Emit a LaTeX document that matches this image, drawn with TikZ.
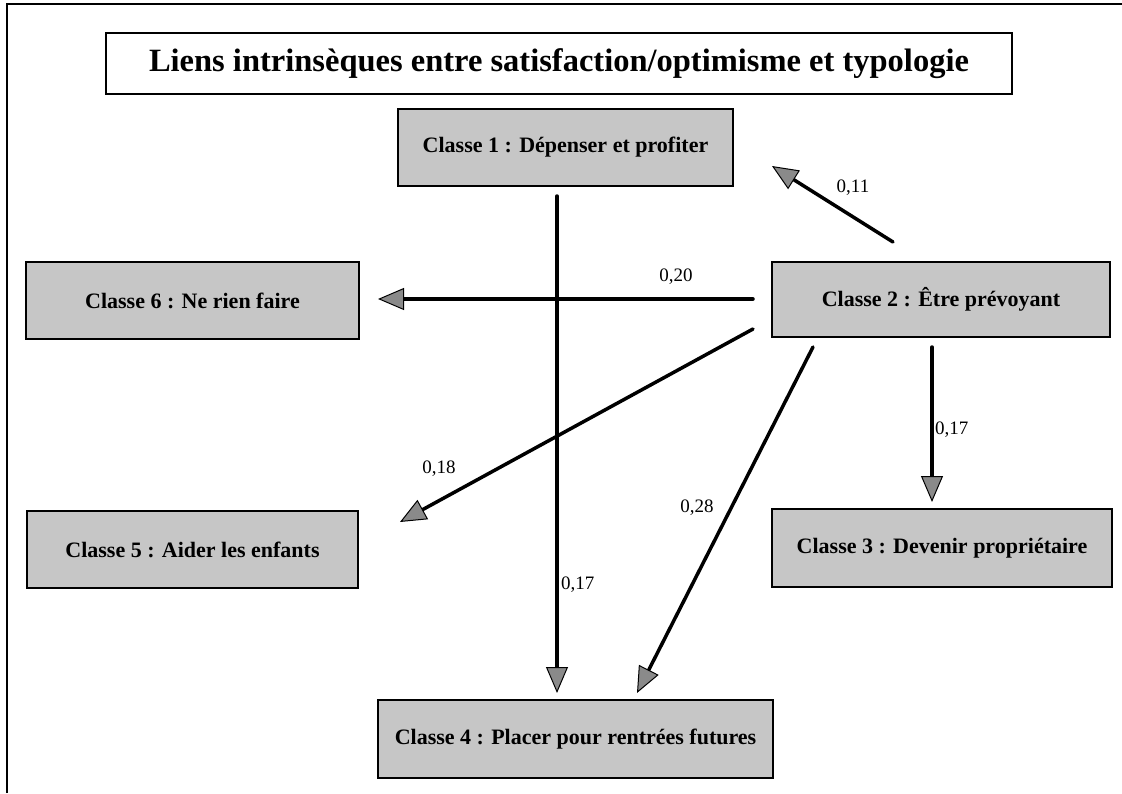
\documentclass[tikz,border=0pt]{standalone}
\usepackage{fontspec}
\setmainfont{Liberation Serif}
\usetikzlibrary{arrows.meta}
\definecolor{boxgray}{HTML}{C6C6C6}
\definecolor{tipgray}{HTML}{8A8A8A}
\tikzset{
  classbox/.style={draw, line width=1.8pt, fill=boxgray, inner sep=0pt,
    font=\fontsize{22}{24}\selectfont\bfseries},
  titlebox/.style={draw, line width=1.8pt, fill=white, inner sep=0pt,
    minimum width=906pt, minimum height=61pt,
    font=\fontsize{32.5}{36}\selectfont\bfseries},
  link/.style={line width=3.5pt, line cap=round,
    -{Triangle[length=26pt, width=22pt, fill=tipgray, line width=1pt]}},
  coef/.style={inner sep=0pt, font=\fontsize{19}{21}\selectfont},
}
\begin{document}
\begin{tikzpicture}[x=1pt, y=-1pt]
\useasboundingbox (0,0) rectangle (1122,793);
% outer frame
\draw[line width=2pt] (7,793) -- (7,4) -- (1122,4);

% title
\node[titlebox] (title) at (559,63.5) {Liens intrinsèques entre satisfaction/optimisme et typologie};

% classes
\node[classbox, minimum width=335pt, minimum height=77pt] (c1) at (565.5,147.5) {Classe 1 : Dépenser et profiter};
\node[classbox, minimum width=338pt, minimum height=75pt] (c2) at (941,299.5) {Classe 2 : Être prévoyant};
\node[classbox, minimum width=340pt, minimum height=78pt] (c3) at (942,548) {Classe 3 : Devenir propriétaire};
\node[classbox, minimum width=395pt, minimum height=78pt] (c4) at (575.5,739) {Classe 4 : Placer pour rentrées futures};
\node[classbox, minimum width=331pt, minimum height=77pt] (c5) at (192.5,549.5) {Classe 5 : Aider les enfants};
\node[classbox, minimum width=333pt, minimum height=77pt] (c6) at (192.5,300.5) {Classe 6 : Ne rien faire};

% connector ends
\coordinate (c2-to1) at (893,242);
\coordinate (c1-in)  at (772,166);
\coordinate (c2-to6) at (753,299);
\coordinate (c6-in)  at (378,299);
\coordinate (c1-to4) at (557,196);
\coordinate (c4-in1) at (557,693);
\coordinate (c2-to5) at (753,329);
\coordinate (c5-in)  at (400,522);
\coordinate (c2-to4) at (813,347);
\coordinate (c4-in2) at (637,693);
\coordinate (c2-to3) at (932,347);
\coordinate (c3-in)  at (932,502);

% links
\draw[link] (c2-to6) -- (c6-in);
\draw[link] (c2-to1) -- (c1-in);
\draw[link] (c2-to5) -- (c5-in);
\draw[link] (c2-to4) -- (c4-in2);
\draw[link] (c2-to3) -- (c3-in);
\draw[link] (c1-to4) -- (c4-in1);

% coefficients
\node[coef] (k21) at (853,188) {0,11};
\node[coef] (k26) at (676,277) {0,20};
\node[coef, anchor=west] (k14) at (561,585) {0,17};
\node[coef, anchor=west] (k23) at (935,430) {0,17};
\node[coef] (k25) at (439,469) {0,18};
\node[coef] (k24) at (697,508) {0,28};
\end{tikzpicture}
\end{document}
